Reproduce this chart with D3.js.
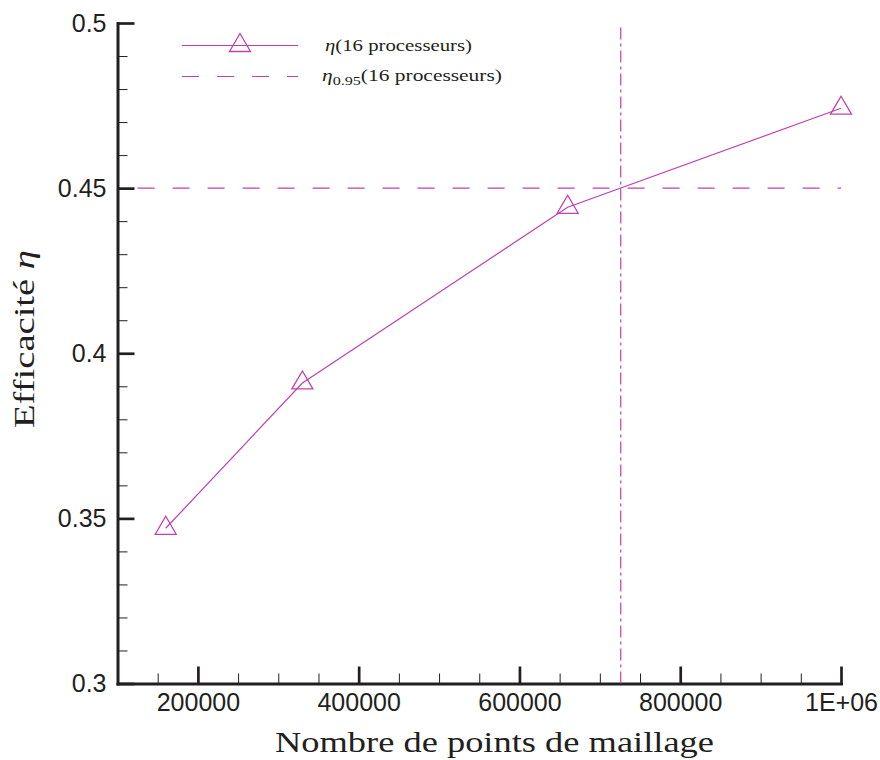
<!DOCTYPE html>
<html>
<head>
<meta charset="utf-8">
<script src="https://cdn.jsdelivr.net/npm/d3@7"></script>
<style>
  html, body { margin: 0; padding: 0; background: #fff; }
  svg { display: block; }
</style>
</head>
<body>
<svg id="chart" width="880" height="760"></svg>
<script>
// ---- data ----
const meshPoints = [160000, 330000, 660000, 1000000];
const efficiency = [0.347, 0.391, 0.4442, 0.4742];
const eta095Value = 0.45;
const eta095Range = [125000, 1000000];
const crossMesh = 726000;
const xTickValues = [200000, 400000, 600000, 800000, 1000000];
const xTickLabels = ["200000", "400000", "600000", "800000", "1E+06"];
const xMinorValues = [150000, 250000, 300000, 350000, 450000, 500000, 550000, 650000, 700000, 750000, 850000, 900000, 950000];
const yTickValues = [0.3, 0.35, 0.4, 0.45, 0.5];
const yTickLabels = ["0.3", "0.35", "0.4", "0.45", "0.5"];
const yMinorValues = [0.31, 0.32, 0.33, 0.34, 0.36, 0.37, 0.38, 0.39, 0.41, 0.42, 0.43, 0.44, 0.46, 0.47, 0.48, 0.49];
const legendLabels = ["η(16 processeurs)", "η0.95(16 processeurs)"];

// ---- layout ----
const color = "rgb(192,64,176)";
const axisColor = "#231f20";
const serif = "'Liberation Serif', 'DejaVu Serif', serif";
const svg = d3.select("#chart");
const x = d3.scaleLinear().domain([100000, 1000000]).range([117.5, 841]);
const y = d3.scaleLinear().domain([0.3, 0.5]).range([683.5, 23]);
const x0 = x.range()[0], y0 = y.range()[0];

// minor ticks
const xMinor = svg.append("g").attr("transform", `translate(0,${y0})`)
  .call(d3.axisBottom(x).tickValues(xMinorValues).tickSize(-10).tickSizeOuter(0).tickFormat(""));
const yMinor = svg.append("g").attr("transform", `translate(${x0},0)`)
  .call(d3.axisLeft(y).tickValues(yMinorValues).tickSize(-10).tickSizeOuter(0).tickFormat(""));
[xMinor, yMinor].forEach(g => {
  g.select(".domain").remove();
  g.selectAll(".tick line").attr("stroke", axisColor).attr("stroke-width", 1);
});

// major axes
const xAxis = svg.append("g").attr("transform", `translate(0,${y0})`)
  .call(d3.axisBottom(x).tickValues(xTickValues).tickSize(-17).tickSizeOuter(0).tickPadding(10)
    .tickFormat((d, i) => xTickLabels[i]));
const yAxis = svg.append("g").attr("transform", `translate(${x0},0)`)
  .call(d3.axisLeft(y).tickValues(yTickValues).tickSize(-17).tickSizeOuter(0).tickPadding(11)
    .tickFormat((d, i) => yTickLabels[i]));
[xAxis, yAxis].forEach(g => {
  g.select(".domain").attr("stroke", axisColor).attr("stroke-width", 3).attr("stroke-linecap", "square");
  g.selectAll(".tick line").attr("stroke", axisColor).attr("stroke-width", 2.7);
  g.selectAll(".tick text").attr("fill", "#231f20")
    .style("font-family", "'Liberation Sans', Arial, sans-serif").style("font-size", "25px");
});
xAxis.selectAll(".tick text").attr("dy", "0.71em").attr("y", 10);

// axis titles
svg.append("text")
  .attr("x", 275).attr("y", 752)
  .attr("textLength", 439).attr("lengthAdjust", "spacingAndGlyphs")
  .style("font-family", serif).style("font-size", "29px")
  .attr("fill", "#231f20")
  .text("Nombre de points de maillage");
const yTitle = svg.append("text")
  .attr("transform", "translate(34,428) rotate(-90)")
  .attr("textLength", 178).attr("lengthAdjust", "spacingAndGlyphs")
  .style("font-family", serif).style("font-size", "29px")
  .attr("fill", "#231f20");
yTitle.append("tspan").text("Efficacité ");
yTitle.append("tspan").style("font-style", "italic").text("η");

// reference lines
svg.append("line")
  .attr("x1", x(eta095Range[0])).attr("x2", x(eta095Range[1]))
  .attr("y1", y(eta095Value)).attr("y2", y(eta095Value))
  .attr("stroke", color).attr("stroke-width", 1.2).attr("stroke-dasharray", "17,18");
svg.append("line")
  .attr("x1", x(crossMesh)).attr("x2", x(crossMesh))
  .attr("y1", y(0.3)).attr("y2", y(0.5) + 2)
  .attr("stroke", color).attr("stroke-width", 1.2).attr("stroke-dasharray", "12,4,3,4");

// data line
const pts = meshPoints.map((m, i) => [m, efficiency[i]]);
svg.append("path")
  .datum(pts)
  .attr("fill", "none").attr("stroke", color).attr("stroke-width", 1.2)
  .attr("d", d3.line().x(d => x(d[0])).y(d => y(d[1])));

const tri = "M0,-12L10.5,6L-10.5,6Z";
svg.append("g").selectAll("path")
  .data(pts).join("path")
  .attr("transform", d => `translate(${x(d[0])},${y(d[1])})`)
  .attr("d", tri)
  .attr("fill", "none").attr("stroke", color).attr("stroke-width", 1.3);

// legend
const legend = svg.append("g");
const lx1 = 182, lx2 = 298, ly1 = 45.5, ly2 = 76.5;
legend.append("line").attr("x1", lx1).attr("x2", lx2).attr("y1", ly1).attr("y2", ly1)
  .attr("stroke", color).attr("stroke-width", 1.2);
legend.append("path").attr("transform", `translate(${(lx1 + lx2) / 2},${ly1})`).attr("d", tri)
  .attr("fill", "none").attr("stroke", color).attr("stroke-width", 1.3);
legend.append("line").attr("x1", lx1).attr("x2", lx2).attr("y1", ly2).attr("y2", ly2)
  .attr("stroke", color).attr("stroke-width", 1.2).attr("stroke-dasharray", "17,18");

const t1 = legend.append("text").attr("x", 325).attr("y", ly1 + 5)
  .attr("textLength", 147).attr("lengthAdjust", "spacingAndGlyphs")
  .style("font-family", serif).style("font-size", "16px").attr("fill", "#231f20");
t1.append("tspan").style("font-style", "italic").text("η");
t1.append("tspan").text(legendLabels[0].slice(1));
const t2 = legend.append("text").attr("x", 322).attr("y", ly2 + 4)
  .attr("textLength", 180).attr("lengthAdjust", "spacingAndGlyphs")
  .style("font-family", serif).style("font-size", "16px").attr("fill", "#231f20");
t2.append("tspan").style("font-style", "italic").text("η");
t2.append("tspan").attr("dy", 4).style("font-size", "12px").text("0.95");
t2.append("tspan").attr("dy", -4).text(legendLabels[1].slice(5));
</script>
</body>
</html>
